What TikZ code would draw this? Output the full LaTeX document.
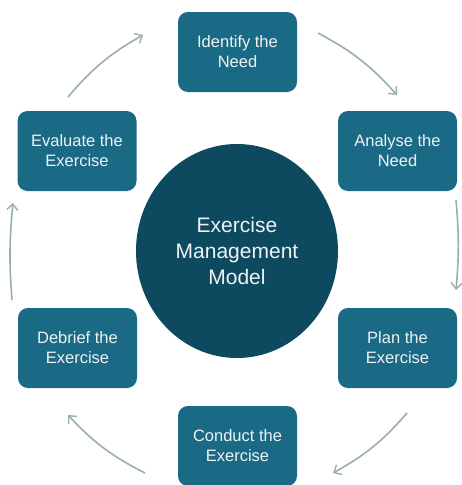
\documentclass[tikz,border=0pt]{standalone}
\usepackage{fontspec}
\setmainfont{Liberation Sans}
\usetikzlibrary{arrows.meta,shapes.geometric}
\definecolor{boxteal}{HTML}{1A6985}
\definecolor{hubteal}{HTML}{0D4A5F}
\definecolor{arrowgray}{HTML}{97B0A8}
\definecolor{softwhite}{HTML}{EEF3F4}
\tikzset{
  stepbox/.style={draw=none, fill=boxteal, rounded corners=10pt, minimum width=119pt, minimum height=80pt,
    align=center, text=softwhite, font=\fontsize{16.5pt}{20pt}\selectfont, inner sep=0pt},
  hub/.style={ellipse, draw=none, fill=hubteal, minimum width=202pt, minimum height=214pt,
    align=center, text=softwhite, font=\fontsize{21pt}{26pt}\selectfont, inner sep=0pt},
  flow/.style={draw=arrowgray, line width=1.6pt, -{Straight Barb[length=6pt,width=11pt,line width=1.4pt]}}
}
\begin{document}
\begin{tikzpicture}[x=1pt,y=-1pt]
\useasboundingbox (0,0) rectangle (462,485);
\fill[white] (0,0) rectangle (462,485);
\node[hub] (hub) at (237,251) {Exercise\\Management\\Model};
\node[stepbox] (identify) at (237.5,52) {Identify the\\Need};
\node[stepbox] (analyse) at (397.5,151) {Analyse the\\Need};
\node[stepbox] (plan) at (397.5,348) {Plan the\\Exercise};
\node[stepbox] (conduct) at (237.5,446) {Conduct the\\Exercise};
\node[stepbox] (debrief) at (77.5,348) {Debrief the\\Exercise};
\node[stepbox] (evaluate) at (77,151) {Evaluate the\\Exercise};
\coordinate (a1) at (318,33);  \coordinate (b1) at (397,95);
\coordinate (a2) at (456,200); \coordinate (b2) at (456,290);
\coordinate (a3) at (407,413); \coordinate (b3) at (333,473);
\coordinate (a4) at (145,473); \coordinate (b4) at (68,415);
\coordinate (a5) at (12,300);  \coordinate (b5) at (13,203);
\coordinate (a6) at (68,97);   \coordinate (b6) at (143,35);
\draw[flow] (a1) to[bend left=10] (b1);
\draw[flow] (a2) to[bend left=5] (b2);
\draw[flow] (a3) to[bend left=10] (b3);
\draw[flow] (a4) to[bend left=10] (b4);
\draw[flow] (a5) to[bend left=5] (b5);
\draw[flow] (a6) to[bend left=10] (b6);
\end{tikzpicture}
\end{document}
